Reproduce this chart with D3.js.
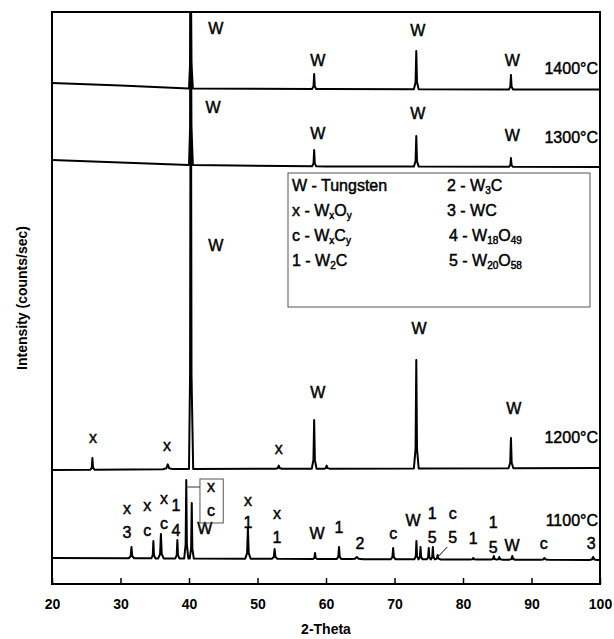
<!DOCTYPE html>
<html>
<head>
<meta charset="utf-8">
<script src="https://cdn.jsdelivr.net/npm/d3@7/dist/d3.min.js"></script>
<style>
  body { margin: 0; background: #fff; }
  text { font-family: "Liberation Sans", Arial, sans-serif; fill: #000; }
  .heavy { stroke: #000; stroke-width: 0.45px; }
</style>
</head>
<body>
<div id="chart"></div>
<script>
// X-ray diffraction patterns (arbitrary counts/sec, stacked)
const thetaTicks = [20, 30, 40, 50, 60, 70, 80, 90, 100];
const tempNames = ["1400°C", "1300°C", "1200°C", "1100°C"];

// baseline of each trace: [2-theta, intensity]
const base1400 = [[20, 2505], [30, 2492], [40, 2478], [60, 2475], [100, 2472]];
const base1300 = [[20, 2120], [40, 2095], [60, 2088], [100, 2085]];
const base1200 = [[20, 570], [40, 575], [100, 580]];
const base1100 = [[20, 130], [60, 125], [100, 120]];

// peaks: [2-theta, top intensity, half width]
const peaks1400 = [[40.26, 3200, 0.3], [58.27, 2550, 0.3], [73.18, 2665, 0.35], [87.0, 2545, 0.3]];
const peaks1300 = [[40.26, 3200, 0.3], [58.27, 2170, 0.3], [73.18, 2240, 0.35], [87.0, 2130, 0.3]];
const peaks1200 = [[25.9, 630, 0.3], [36.9, 598, 0.7], [40.26, 3200, 0.35], [53.1, 592, 0.5],
  [58.27, 820, 0.35], [60.1, 592, 0.4], [73.18, 1120, 0.35], [87.0, 730, 0.35]];
const peaks1100 = [[31.6, 185, 0.4], [34.8, 215, 0.3], [35.9, 250, 0.4], [38.3, 220, 0.3],
  [39.6, 520, 0.3], [40.4, 405, 0.3], [48.6, 280, 0.4], [52.5, 175, 0.4], [58.4, 155, 0.3],
  [61.9, 185, 0.35], [64.5, 135, 0.9], [69.8, 180, 0.35], [73.2, 215, 0.3], [73.8, 185, 0.3],
  [75.0, 180, 0.3], [75.6, 185, 0.3], [76.3, 145, 0.4], [81.5, 130, 0.5], [84.5, 140, 0.4],
  [85.3, 135, 0.4], [87.2, 140, 0.4], [91.9, 130, 0.6], [99.0, 135, 0.6]];

// phase labels: [text, 2-theta, intensity]
const labels1400 = [["W", 43.9, 2780], ["W", 58.8, 2620], ["W", 73.4, 2770], ["W", 87.2, 2620]];
const labels1300 = [["W", 43.5, 2385], ["W", 58.8, 2255], ["W", 73.4, 2355], ["W", 87.2, 2245]];
const labels1200 = [["W", 43.9, 1695], ["W", 58.8, 960], ["W", 73.6, 1280], ["W", 87.4, 880],
  ["x", 26.0, 735], ["x", 36.8, 695], ["x", 53.1, 680]];
const labels1100 = [["x", 30.95, 380], ["3", 30.95, 260], ["x", 33.9, 395], ["c", 33.9, 270],
  ["x", 36.35, 430], ["c", 36.35, 305], ["1", 38.1, 395], ["4", 38.1, 270],
  ["x", 43.2, 490], ["c", 43.2, 370], ["W", 42.3, 280],
  ["x", 48.6, 420], ["1", 48.6, 310], ["x", 52.85, 355], ["1", 52.85, 235],
  ["W", 58.7, 255], ["1", 61.9, 285], ["2", 64.96, 205], ["c", 69.8, 255], ["W", 72.7, 320],
  ["1", 75.5, 355], ["5", 75.5, 235], ["c", 78.5, 355], ["5", 78.5, 235], ["1", 81.5, 230],
  ["1", 84.4, 310], ["5", 84.4, 185], ["W", 87.15, 195], ["c", 91.8, 205], ["3", 98.7, 205]];
const tempLevels = [2580, 2235, 735, 320];

// legend rows, subscripts given as one-element arrays
const legendLeft = [["W - Tungsten"], ["x - W", ["x"], "O", ["y"]], ["c - W", ["x"], "C", ["y"]], ["1 - W", ["2"], "C"]];
const legendRight = [["2 - W", ["3"], "C"], ["3 - WC"], ["4 - W", ["18"], "O", ["49"]], ["5 - W", ["20"], "O", ["58"]]];

const width = 614, height = 639;
const margin = { top: 12, right: 14, bottom: 55, left: 52 };

const svg = d3.select("#chart").append("svg")
  .attr("width", width)
  .attr("height", height);

const x = d3.scaleLinear().domain([20, 100]).range([margin.left, width - margin.right]);
const y = d3.scaleLinear().domain([0, 2860]).range([height - margin.bottom, margin.top]);

svg.append("defs").append("clipPath").attr("id", "plot-clip")
  .append("rect")
  .attr("x", margin.left).attr("y", margin.top)
  .attr("width", x(100) - x(20)).attr("height", y(0) - y(2860));

// build the vertex list of a trace from its baseline and peaks
function tracePoints(base, peaks) {
  const b = d3.scaleLinear().domain(base.map(d => d[0])).range(base.map(d => d[1]));
  const pts = base.map(d => [d[0], d[1]]);
  peaks.forEach(([p, top, hw]) => {
    const foot = b(p);
    pts.push([p - hw, b(p - hw)]);
    pts.push([p - hw * 0.3, foot + (top - foot) * 0.18]);
    pts.push([p, top]);
    pts.push([p + hw * 0.3, foot + (top - foot) * 0.18]);
    pts.push([p + hw, b(p + hw)]);
  });
  return pts.sort((a, c) => a[0] - c[0]);
}

const line = d3.line().x(d => x(d[0])).y(d => y(d[1]));

const traces = [[base1400, peaks1400], [base1300, peaks1300], [base1200, peaks1200], [base1100, peaks1100]];

svg.append("g").attr("clip-path", "url(#plot-clip)")
  .selectAll("path")
  .data(traces)
  .join("path")
  .attr("d", d => line(tracePoints(d[0], d[1])))
  .attr("fill", "none")
  .attr("stroke", "#000")
  .attr("stroke-width", 2)
  .attr("stroke-linejoin", "round");

// frame
svg.append("rect")
  .attr("x", x(20)).attr("y", y(2860))
  .attr("width", x(100) - x(20)).attr("height", y(0) - y(2860))
  .attr("fill", "none")
  .attr("stroke", "#000")
  .attr("stroke-width", 2);

// x axis, ticks pointing inward
const xAxis = d3.axisBottom(x).tickValues(thetaTicks).tickSizeInner(-6).tickSizeOuter(0).tickPadding(15);
const gx = svg.append("g")
  .attr("transform", `translate(0,${y(0)})`)
  .call(xAxis);
gx.select(".domain").remove();
gx.selectAll("line").attr("stroke-width", 1.5);
gx.selectAll("text")
  .style("font-family", "'Liberation Sans', Arial, sans-serif")
  .style("font-size", "14px")
  .style("font-weight", "bold");

svg.append("text")
  .attr("x", (x(20) + x(100)) / 2)
  .attr("y", 634)
  .attr("text-anchor", "middle")
  .style("font-size", "14px")
  .style("font-weight", "bold")
  .text("2-Theta");

svg.append("text")
  .attr("transform", `translate(27,${(y(0) + y(2860)) / 2}) rotate(-90)`)
  .attr("text-anchor", "middle")
  .style("font-size", "14px")
  .style("font-weight", "bold")
  .text("Intensity (counts/sec)");

// phase labels
const allLabels = [labels1400, labels1300, labels1200, labels1100].flat();
svg.append("g")
  .selectAll("text")
  .data(allLabels)
  .join("text")
  .attr("class", "heavy")
  .attr("x", d => x(d[1]))
  .attr("y", d => y(d[2]))
  .attr("text-anchor", "middle")
  .attr("dominant-baseline", "central")
  .style("font-size", "16px")
  .text(d => d[0]);

// temperature labels
svg.append("g")
  .selectAll("text")
  .data(tempNames)
  .join("text")
  .attr("class", "heavy")
  .attr("x", x(100) - 2)
  .attr("y", (d, i) => y(tempLevels[i]))
  .attr("text-anchor", "end")
  .attr("dominant-baseline", "central")
  .style("font-size", "16px")
  .text(d => d);

// boxed x / c label near 40 deg and its leader
svg.append("rect")
  .attr("x", x(41.6)).attr("y", y(525))
  .attr("width", x(45.0) - x(41.6)).attr("height", y(305) - y(525))
  .attr("fill", "none").attr("stroke", "#555").attr("stroke-width", 1);
svg.append("line")
  .attr("x1", x(39.75)).attr("x2", x(41.6))
  .attr("y1", y(485)).attr("y2", y(485))
  .attr("stroke", "#333").attr("stroke-width", 1);
svg.append("line")
  .attr("x1", x(77.7)).attr("y1", y(185))
  .attr("x2", x(76.4)).attr("y2", y(138))
  .attr("stroke", "#000").attr("stroke-width", 1);

// legend
const legend = svg.append("g");
legend.append("rect")
  .attr("x", 288).attr("y", 173)
  .attr("width", 302).attr("height", 134)
  .attr("fill", "#fff")
  .attr("stroke", "#555").attr("stroke-width", 1);

function legendRow(g, parts, lx, ly) {
  const t = g.append("text").attr("class", "heavy").attr("x", lx).attr("y", ly).style("font-size", "16px");
  let shifted = false;
  parts.forEach(p => {
    if (Array.isArray(p)) {
      t.append("tspan").attr("dy", shifted ? 0 : 3).style("font-size", "10px").text(p[0]);
      shifted = true;
    } else {
      t.append("tspan").attr("dy", shifted ? -3 : 0).text(p);
      shifted = false;
    }
  });
}
legendLeft.forEach((row, i) => legendRow(legend, row, 292, 191 + i * 25));
legendRight.forEach((row, i) => legendRow(legend, row, i >= 2 ? 449 : 447, 191 + i * 25));
</script>
</body>
</html>
